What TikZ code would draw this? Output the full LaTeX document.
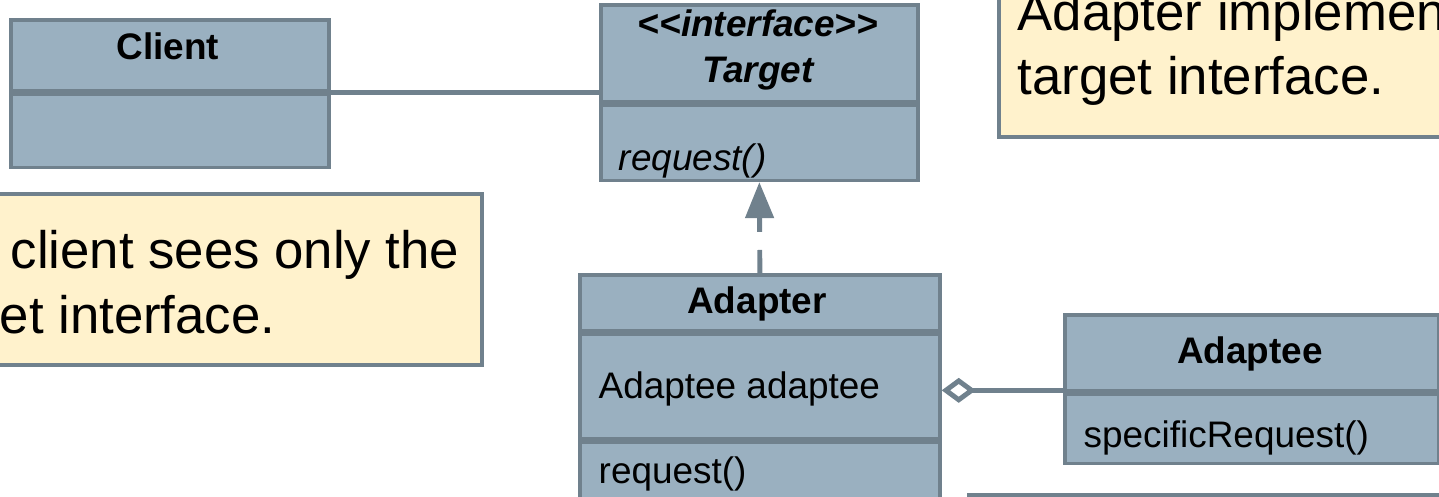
\documentclass[tikz,border=0pt]{standalone}
\usepackage{fontspec}
\setmainfont{Liberation Sans}
\usetikzlibrary{calc}
\usetikzlibrary{arrows.meta}
\usepackage{xcolor}
\definecolor{umlfill}{RGB}{154,176,192}
\definecolor{umlline}{RGB}{112,129,141}
\definecolor{notefill}{RGB}{255,242,204}

\begin{document}
\begin{tikzpicture}[x=0.01cm,y=-0.01cm,
  part/.style={draw=umlline,fill=umlfill,line width=1pt,anchor=north west,inner sep=0pt},
  note/.style={draw=umlline,fill=notefill,line width=1pt,anchor=north west,inner sep=0pt},
  cls/.style={font=\fontsize{10.5}{12}\selectfont,inner sep=0pt},
  notetext/.style={font=\fontsize{15}{18}\selectfont,inner sep=0pt,anchor=base west},
  link/.style={umlline,line width=1.4pt}]
\useasboundingbox (0,0) rectangle (1439,497);
\clip (0,0) rectangle (1439,497);

% notes
\node[note,minimum width=5.2cm,minimum height=1.71cm] (leftnote) at (-40,192) {};
\node[notetext] (leftnote1) at (10,268) {client sees only the};
\node[notetext] (leftnote2) at (-1,333) {et interface.};
\node[note,minimum width=4.8cm,minimum height=1.6cm] (rightnote) at (997,-25) {};
\node[notetext] (rightnote1) at (1017,31) {Adapter implemen};
\node[notetext] (rightnote2) at (1017,94) {target interface.};
\node[note,minimum width=5cm,minimum height=1cm] (lownote) at (967,493) {};

% Client
\node[part,minimum width=3.18cm,minimum height=0.71cm] (clienthead) at (9,18) {};
\node[part,minimum width=3.18cm,minimum height=0.73cm] (clientbody) at (clienthead.south west) {};
\node[cls,anchor=base] (clientname) at (168,60) {\bfseries Client};

% Target
\node[part,minimum width=3.17cm,minimum height=0.97cm] (targethead) at (599,3) {};
\node[part,minimum width=3.17cm,minimum height=0.75cm] (targetops) at (targethead.south west) {};
\node[cls,anchor=base] (targetstereo) at (758,37) {\bfseries\itshape <\kern0pt<interface>\kern0pt>};
\node[cls,anchor=base] (targetname) at (758,82) {\bfseries\itshape Target};
\node[cls,anchor=base west] (targetop) at (618,170) {\itshape request()};

% Adapter
\node[part,minimum width=3.6cm,minimum height=0.56cm] (adapterhead) at (578,273) {};
\node[part,minimum width=3.6cm,minimum height=1.04cm] (adapterattr) at (adapterhead.south west) {};
\node[part,minimum width=3.6cm,minimum height=1cm] (adapterops) at (adapterattr.south west) {};
\node[cls,anchor=base] (adaptername) at (757,313) {\bfseries Adapter};
\node[cls,anchor=base west] (adapterfield) at (598,398) {Adaptee adaptee};
\node[cls,anchor=base west] (adapterop) at (598,483) {request()};

% Adaptee
\node[part,minimum width=3.74cm,minimum height=0.76cm] (adapteehead) at (1063,313) {};
\node[part,minimum width=3.74cm,minimum height=0.69cm] (adapteeops) at (adapteehead.south west) {};
\node[cls,anchor=base] (adapteename) at (1250,363) {\bfseries Adaptee};
\node[cls,anchor=base west] (adapteeop) at (1083,447) {specificRequest()};

% links
\draw[link] (clienthead.south east) -- (clienthead.south east -| targethead.west);
\draw[link,dash pattern=on 0.23cm off 0.18cm,-{Triangle[length=0.36cm,width=0.28cm]}] (adapterhead.north) -- (targetops.south);
\coordinate (aggr) at ([yshift=-0.04cm]adapterattr.east);
\draw[link,{Diamond[open,fill=white,length=0.34cm,width=0.25cm]}-] (aggr) -- (aggr -| adapteehead.west);
\end{tikzpicture}
\end{document}
